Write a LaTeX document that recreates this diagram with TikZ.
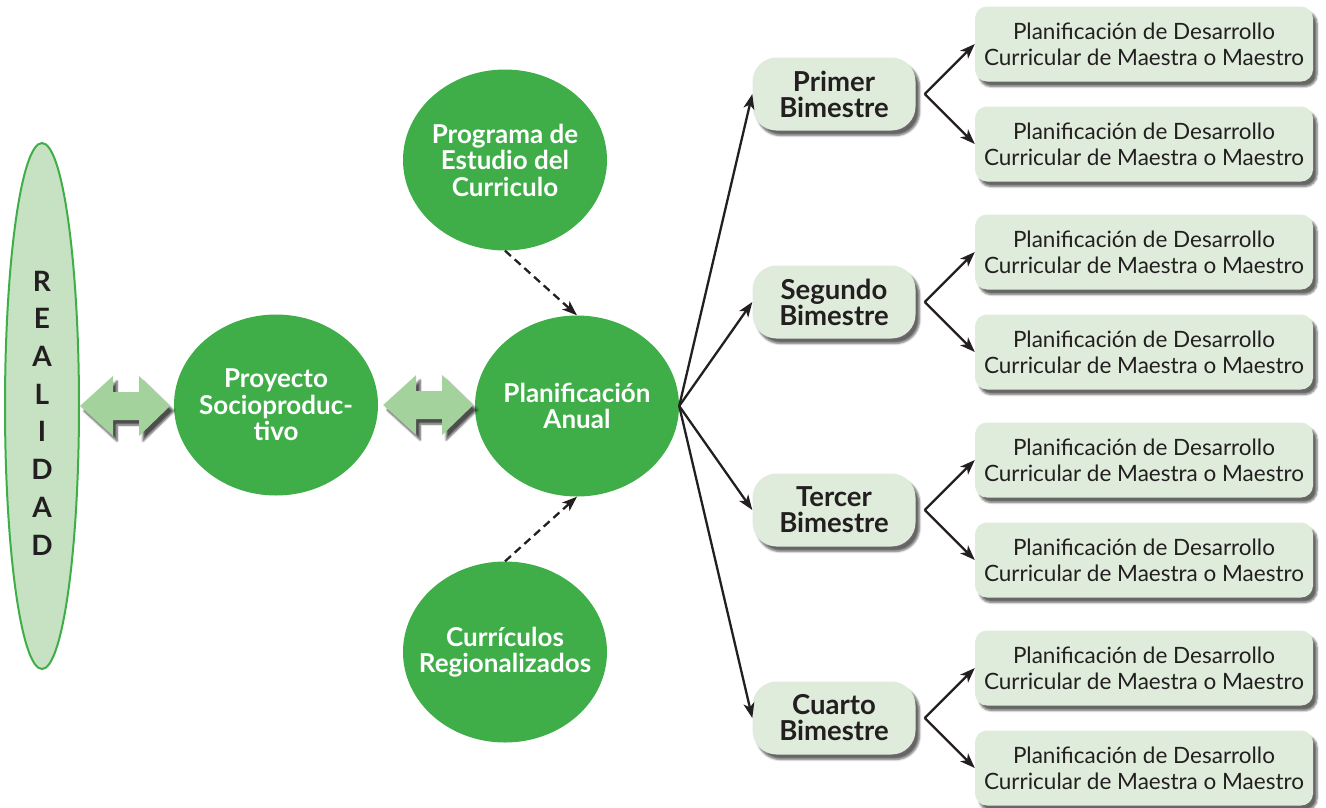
\documentclass[tikz,border=0pt]{standalone}
\usepackage{fontspec}
\setmainfont{Lato}
\usetikzlibrary{shapes.geometric,shadows.blur,arrows.meta,calc}
\definecolor{dgreen}{RGB}{63,174,73}
\definecolor{lgreen}{RGB}{198,226,194}
\definecolor{pgreen}{RGB}{223,236,219}
\definecolor{agreen}{RGB}{163,210,156}
\definecolor{ink}{RGB}{35,31,32}
\tikzset{
  circ/.style={ellipse, fill=dgreen, minimum width=204pt, minimum height=181pt, inner sep=0pt,
    label={[ctext]center:#1}},
  ctext/.style={text=white, font=\fontsize{26}{26.5}\selectfont\bfseries, align=center, inner sep=0pt},
  real/.style={ellipse, fill=lgreen, draw=dgreen, line width=2pt, minimum width=74pt, minimum height=526pt, inner sep=0pt},
  bim/.style={rounded corners=24pt, fill=pgreen, minimum width=163pt, minimum height=73pt, inner sep=0pt,
    text=ink, font=\fontsize{27.5}{26}\selectfont\bfseries, align=center,
    blur shadow={shadow xshift=4pt, shadow yshift=-5pt, shadow blur steps=6, shadow opacity=60}},
  pdc/.style={rounded corners=12pt, fill=pgreen, minimum width=338pt, minimum height=75pt, inner sep=0pt,
    text=ink, font=\fontsize{22.5}{26}\selectfont, align=center,
    blur shadow={shadow xshift=4pt, shadow yshift=-5pt, shadow blur steps=6, shadow opacity=60}},
  dblarr/.style={fill=agreen, blur shadow={shadow xshift=4pt, shadow yshift=-5pt, shadow blur steps=6, shadow opacity=70}},
  conn/.style={ink, line width=2.3pt, -{Stealth[length=15pt, width=11pt, inset=4pt]}},
  dconn/.style={conn, dash pattern=on 8pt off 5pt}
}
\newcommand{\pdctext}{Planificación de Desarrollo\\Curricular de Maestra o Maestro}
\begin{document}
\begin{tikzpicture}[x=1pt,y=-1pt]
\useasboundingbox (0,0) rectangle (1326,807);
% nodes
\node[real, label={[font=\fontsize{28}{37.7}\selectfont\bfseries, text=ink, align=center, yshift=-7pt]center:R\\E\\A\\L\\I\\D\\A\\D}] (realidad) at (42,406) {};
\node[circ={Proyecto\\Socioproduc-\\tivo}] (proy) at (276,405) {};
\node[circ={Planificación\\Anual}] (anual) at (577,406) {};
\node[circ={Programa de\\Estudio del\\Curriculo}] (prog) at (505,160) {};
\node[circ={Currículos\\Regionalizados}] (reg) at (505,652) {};
\node[bim] (b1) at (834,94) {Primer\\Bimestre};
\node[bim] (b2) at (834,302) {Segundo\\Bimestre};
\node[bim] (b3) at (834,510) {Tercer\\Bimestre};
\node[bim] (b4) at (834,718) {Cuarto\\Bimestre};
\foreach \i/\y in {1/94,2/302,3/510,4/718}{
  \node[pdc] (p\i a) at (1144,\y-50) {\pdctext};
  \node[pdc] (p\i b) at (1144,\y+50) {\pdctext};
}
% double arrows
\fill[dblarr] (realidad.east) -- ++(33,-30) -- ++(0,16) -- ++(26,0) -- ++(0,-16) -- ++(31,30)
  -- ++(-31,30) -- ++(0,-16) -- ++(-26,0) -- ++(0,16) -- cycle;
\fill[dblarr] ($(proy.east)+(5,0)$) -- ++(33,-30) -- ++(0,16) -- ++(26,0) -- ++(0,-16) -- ++(31,30)
  -- ++(-31,30) -- ++(0,-16) -- ++(-26,0) -- ++(0,16) -- cycle;
% dashed connectors
\draw[dconn] (prog.south) -- (anual.north);
\draw[dconn] (reg.north) -- (anual.south);
% fan
\foreach \i in {1,2,3,4}{
  \draw[conn] (anual.east) -- (b\i.west);
  \draw[conn] ($(b\i.east)+(9,0)$) -- (p\i a.west);
  \draw[conn] ($(b\i.east)+(9,0)$) -- (p\i b.west);
}
\end{tikzpicture}
\end{document}
